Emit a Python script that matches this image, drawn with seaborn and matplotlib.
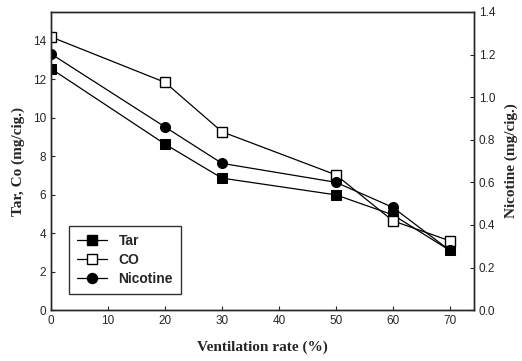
import pandas as pd
import seaborn as sns
import matplotlib.pyplot as plt
from matplotlib.lines import Line2D

# values
ventilation = [0, 20, 30, 50, 60, 70]
tar = [12.55, 8.63, 6.86, 5.99, 4.95, 3.1]
co = [14.2, 11.84, 9.27, 7.03, 4.64, 3.6]
nicotine = [1.203, 0.86, 0.689, 0.60, 0.482, 0.28]

data = pd.DataFrame({'Ventilation': ventilation, 'Tar': tar, 'CO': co, 'Nicotine': nicotine})

sns.set_style('ticks')
plt.rcParams['font.family'] = ['Liberation Sans', 'DejaVu Sans']
plt.rcParams['xtick.direction'] = 'in'
plt.rcParams['ytick.direction'] = 'in'

fig = plt.figure(figsize=(5.22, 3.61), dpi=100)
ax = fig.add_axes([0.0977, 0.141, 0.81, 0.826])
ax2 = ax.twinx()

lw = 0.9
ms_sq, ms_c = 6.5, 7.2
sns.lineplot(data=data, x='Ventilation', y='Tar', ax=ax, color='black', lw=lw,
             marker='s', markersize=ms_sq, markerfacecolor='black', markeredgecolor='black')
sns.lineplot(data=data, x='Ventilation', y='CO', ax=ax, color='black', lw=lw,
             marker='s', markersize=ms_sq, markerfacecolor='white', markeredgecolor='black', markeredgewidth=1)
sns.lineplot(data=data, x='Ventilation', y='Nicotine', ax=ax2, color='black', lw=lw,
             marker='o', markersize=ms_c, markerfacecolor='black', markeredgecolor='black')

ax.set_xlim(0, 74.2)
ax.set_ylim(0, 15.5)
ax2.set_ylim(0, 1.4)
ax.set_xticks(range(0, 80, 10))
ax.set_yticks(range(0, 15, 2))
ax2.set_yticks([0.0, 0.2, 0.4, 0.6, 0.8, 1.0, 1.2, 1.4])
ax2.set_yticklabels(['0.0', '0.2', '0.4', '0.6', '0.8', '1.0', '1.2', '1.4'])

for a in (ax, ax2):
    a.tick_params(labelsize=8.5, length=3, width=0.8)
    for s in a.spines.values():
        s.set_linewidth(1)
        s.set_visible(True)

serif = dict(family=['Liberation Serif', 'DejaVu Serif'], fontweight='bold', fontsize=11)
ax.set_xlabel('Ventilation rate (%)', labelpad=10, **serif)
ax.set_ylabel('Tar, Co (mg/cig.)', labelpad=6, **serif)
ax2.set_ylabel('Nicotine (mg/cig.)', labelpad=7, **serif)

handles = [
    Line2D([], [], color='black', lw=lw, marker='s', markersize=ms_sq, markerfacecolor='black'),
    Line2D([], [], color='black', lw=lw, marker='s', markersize=ms_sq, markerfacecolor='white'),
    Line2D([], [], color='black', lw=lw, marker='o', markersize=ms_c, markerfacecolor='black'),
]
leg = ax.legend(handles, ['Tar', 'CO', 'Nicotine'], loc='lower left', bbox_to_anchor=(0.025, 0.03),
                frameon=True, fancybox=False, edgecolor='black', handlelength=2.2,
                prop={'weight': 'bold', 'size': 10}, borderpad=0.6, labelspacing=0.35)
leg.get_frame().set_linewidth(1)

fig.savefig('out.png', dpi=100)
